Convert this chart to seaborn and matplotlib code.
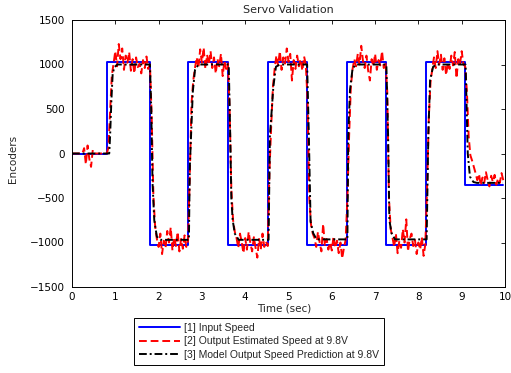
import numpy as np
import pandas as pd
import seaborn as sns
import matplotlib.pyplot as plt

# Input speed: step edges (time, level held until next edge)
input_t = [0, 0.80, 1.79, 2.69, 3.61, 4.53, 5.42, 6.35, 7.25, 8.18, 9.08, 9.95]
input_v = [0, 1023, -1023, 1023, -1023, 1023, -1023, 1023, -1023, 1023, -350, -350]

# Estimated output speed, sampled every 0.04 s (one row per second)
est_v = [
    0, 0, 0, 0, 0, 0, 0, 60, -120, 90, -60, -150, 40, 0, 0, 0, 0, 0, 0, 0, 0, 60, 480, 880, 1010,
    1150, 980, 1230, 1060, 1180, 940, 1100, 1020, 1140, 930, 1060, 900, 1080, 970, 1010, 900, 1050, 960, 1090, 950, 1000, 420, -480, -820, -960,
    -1050, -900, -1130, -980, -1060, -870, -1000, -830, -1090, -940, -1040, -880, -1100, -960, -1070, -920, -1050, -980, -250, 560, 820, 960, 1080, 960, 1170,
    1020, 1190, 950, 1110, 1000, 1150, 960, 1080, 900, 1060, 980, 1120, 870, 1040, 950, 1010, 500, -400, -750, -880, -950, -1060, -900, -1000, -1120,
    -950, -1080, -880, -1010, -1100, -940, -1060, -1170, -960, -1080, -900, -1050, -990, -1040, -200, 300, 750, 950, 1100, 990, 1150, 940, 1080, 1010, 1180,
    1030, 1120, 820, 1050, 950, 1100, 980, 1060, 930, 1090, 1000, 600, -500, -800, -900, -950, -1050, -880, -1000, -1100, -790, -1040, -960, -1080, -1000,
    -1090, -930, -1060, -980, -1120, -1000, -1180, -1060, -970, -500, 200, 750, 950, 1060, 980, 1120, 1000, 1210, 1040, 960, 1100, 930, 820, 1060, 980,
    1120, 940, 1050, 990, 1150, 960, 1030, 700, -500, -850, -940, -1050, -900, -1120, -980, -1060, -850, -1000, -740, -1100, -960, -900, -1040, -970, -1130,
    -1000, -1080, -940, -1150, -1020, -400, 400, 800, 950, 1080, 960, 1150, 1000, 1110, 940, 1070, 880, 1020, 950, 1100, 990, 1140, 845, 1060, 1000,
    1150, 1000, 980, 700, 200, -20, -80, -150, -220, -300, -230, -360, -270, -330, -210, -300, -370, -250, -320, -240, -350, -280, -330, -220, -300,
]
est_t = np.round(np.arange(len(est_v)) * 0.04, 2)

# Model prediction, read at its corners
model_t = [0, 0.86, 0.88, 0.91, 0.94, 0.98, 1.05, 1.80, 1.83, 1.86, 1.90, 1.96, 2.05,
           2.70, 2.72, 2.79, 2.84, 2.92, 3.62, 3.65, 3.68, 3.71, 3.76, 3.85,
           4.54, 4.57, 4.65, 4.71, 4.80, 5.43, 5.47, 5.51, 5.57, 5.65,
           6.36, 6.38, 6.42, 6.48, 6.56, 7.26, 7.30, 7.33, 7.38, 7.46,
           8.19, 8.23, 8.27, 8.34, 8.42, 9.09, 9.14, 9.19, 9.27, 9.35, 9.95]
model_v = [0, 0, 200, 600, 900, 970, 1000, 1000, 500, -335, -750, -935, -970,
           -970, -160, 695, 938, 1000, 1000, 300, -500, -745, -900, -970,
           -970, 190, 750, 975, 1000, 1000, 200, -766, -895, -965,
           -965, 190, 713, 957, 1000, 1000, 200, -750, -895, -965,
           -965, 227, 826, 975, 1000, 1000, 0, -260, -320, -330, -330]

labels = ["[1] Input Speed",
          "[2] Output Estimated Speed at 9.8V",
          "[3] Model Output Speed Prediction at 9.8V"]

sns.set_style("white")
plt.rcParams['font.family'] = ['DejaVu Sans']

fig = plt.figure(figsize=(5.11, 3.73), dpi=100)
ax = fig.add_axes([72 / 511, 86 / 373, 433 / 511, 267 / 373])

sns.lineplot(x=input_t, y=input_v, ax=ax, color='#0000ff', lw=1.4,
             drawstyle='steps-post', label=labels[0], sort=False, estimator=None)
sns.lineplot(x=est_t, y=est_v, ax=ax, color='#ff0000', lw=1.4,
             dashes=False, linestyle=(0, (4, 2)), label=labels[1], estimator=None)
sns.lineplot(x=model_t, y=model_v, ax=ax, color='black', lw=1.4,
             dashes=False, linestyle=(0, (4, 1.5, 1, 1.5)), label=labels[2], estimator=None)

ax.set_xlim(0, 10)
ax.set_ylim(-1500, 1500)
ax.set_xticks(range(0, 11))
ax.set_yticks(range(-1500, 1501, 500))
ax.tick_params(direction='in', length=3, width=0.6, labelsize=7.5,
               top=True, right=True, colors='black')
ax.tick_params(axis='y', pad=5)
ax.tick_params(axis='x', pad=3.5)
for s in ax.spines.values():
    s.set_color('black')
    s.set_linewidth(0.7)

ax.set_title("Servo Validation", fontsize=8, pad=5)
ax.set_xlabel("Time (sec)", fontsize=7.5)
ax.set_ylabel("Encoders", fontsize=7.5)
ax.xaxis.set_label_coords(0.49, -0.06)
ax.yaxis.set_label_coords(-0.125, 0.48)

ax.legend(loc='upper left', bbox_to_anchor=(134 / 511, 1 - 318 / 373),
          bbox_transform=fig.transFigure, frameon=True,
          fancybox=False, edgecolor='black', framealpha=1, borderaxespad=0,
          handlelength=4.0, handletextpad=0.35, labelspacing=0.35, borderpad=0.45,
          prop={'family': 'Liberation Sans', 'size': 7.5})
ax.get_legend().get_frame().set_linewidth(0.7)

fig.savefig("out.png", dpi=100)
